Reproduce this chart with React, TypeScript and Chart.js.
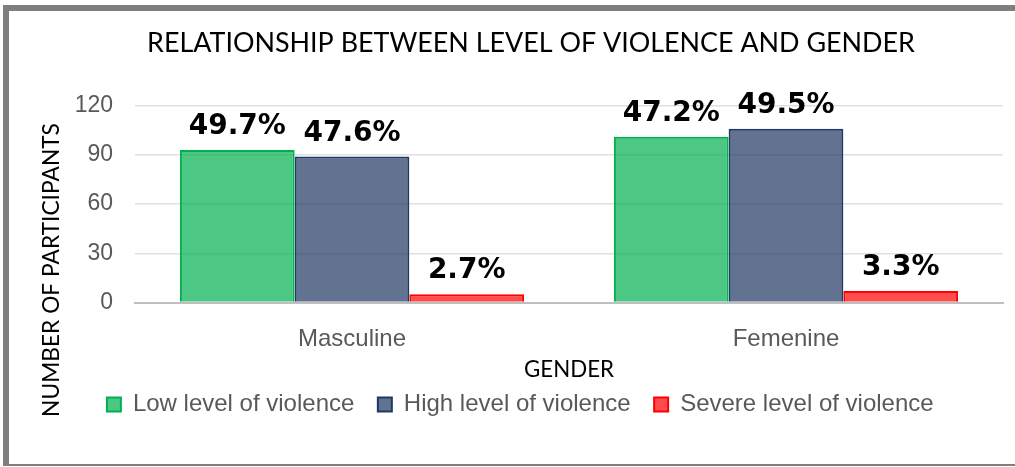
import React, { useEffect, useRef } from 'react';
import { Chart, registerables } from 'chart.js';

Chart.register(...registerables);

// ---------- data ----------
const categories = ['Masculine', 'Femenine'];
const seriesLabels = ['Low level of violence', 'High level of violence', 'Severe level of violence'];
const lowValues = [93, 101];
const highValues = [89, 106];
const severeValues = [5, 7];
const lowPercents = ['49.7%', '47.2%'];
const highPercents = ['47.6%', '49.5%'];
const severePercents = ['2.7%', '3.3%'];
const yTickValues = [0, 30, 60, 90, 120];

const chartTitle = 'RELATIONSHIP BETWEEN LEVEL OF VIOLENCE AND GENDER';
const xAxisTitle = 'GENDER';
const yAxisTitle = 'NUMBER OF PARTICIPANTS';

// ---------- style ----------
const CALIBRI_LIKE = 'Lato, "Noto Sans", sans-serif';
const ARIAL_LIKE = '"Liberation Sans", Arial, sans-serif';
const VERDANA_LIKE = '"DejaVu Sans", Verdana, sans-serif';

const W = 1015;
const H = 467;
const PLOT_LEFT = 135;
const PLOT_RIGHT = 1003;
const PLOT_TOP = 105.7;
const PLOT_BOTTOM = 302.5;
const LEGEND_FONT = 24;
const LEGEND_PAD = 23.5;
const LEGEND_H = LEGEND_FONT + LEGEND_PAD + 10;
const X_AXIS_H = 66.5;
const PAD_LEFT = 37.5;
const PAD_RIGHT = W - PLOT_RIGHT;
const PAD_BOTTOM = H - PLOT_BOTTOM - X_AXIS_H - LEGEND_H;

function fitFontSize(text: string, family: string, weight: string, targetWidth: number): number {
  const c = document.createElement('canvas').getContext('2d') as CanvasRenderingContext2D;
  c.font = `${weight} 100px ${family}`;
  return (100 * targetWidth) / c.measureText(text).width;
}

export default function App() {
  const canvasRef = useRef<HTMLCanvasElement | null>(null);

  useEffect(() => {
    document.body.style.margin = '0';
    const canvas = canvasRef.current;
    if (!canvas) return;

    const titleSize = fitFontSize(chartTitle, CALIBRI_LIKE, 'normal', 768);
    const yTitleSize = fitFontSize(yAxisTitle, CALIBRI_LIKE, 'normal', 294);
    const xTitleSize = fitFontSize(xAxisTitle, CALIBRI_LIKE, 'normal', 90);

    const percentLabels = [lowPercents, highPercents, severePercents];

    const decorations = {
      id: 'decorations',
      afterDatasetsDraw(chart: any) {
        const ctx = chart.ctx as CanvasRenderingContext2D;
        ctx.save();
        ctx.font = `bold 28px ${VERDANA_LIKE}`;
        ctx.fillStyle = '#000000';
        ctx.textAlign = 'center';
        ctx.textBaseline = 'alphabetic';
        chart.data.datasets.forEach((_ds: any, i: number) => {
          const meta = chart.getDatasetMeta(i);
          meta.data.forEach((el: any, j: number) => {
            ctx.fillText(percentLabels[i][j], el.x, el.y - 16);
          });
        });
        ctx.restore();
      },
      afterDraw(chart: any) {
        const ctx = chart.ctx as CanvasRenderingContext2D;
        ctx.save();
        ctx.fillStyle = '#000000';
        ctx.textAlign = 'center';
        ctx.textBaseline = 'alphabetic';
        ctx.font = `normal ${titleSize}px ${CALIBRI_LIKE}`;
        ctx.fillText(chartTitle, 531, 52);
        ctx.translate(59, 270);
        ctx.rotate(-Math.PI / 2);
        ctx.font = `normal ${yTitleSize}px ${CALIBRI_LIKE}`;
        ctx.fillText(yAxisTitle, 0, 0);
        ctx.restore();
      },
    };

    const chart = new Chart(canvas, {
      type: 'bar',
      data: {
        labels: categories,
        datasets: [
          {
            label: seriesLabels[0],
            data: lowValues,
            backgroundColor: 'rgba(0,176,80,0.7)',
            borderColor: '#00B050',
            borderWidth: 2,
          },
          {
            label: seriesLabels[1],
            data: highValues,
            backgroundColor: 'rgba(32,56,100,0.7)',
            borderColor: '#203864',
            borderWidth: 2,
          },
          {
            label: seriesLabels[2],
            data: severeValues,
            backgroundColor: 'rgba(255,0,0,0.7)',
            borderColor: '#FF0000',
            borderWidth: 2,
          },
        ],
      },
      options: {
        responsive: false,
        maintainAspectRatio: false,
        animation: false,
        devicePixelRatio: 1,
        datasets: {
          bar: {
            categoryPercentage: 0.793,
            barPercentage: 1,
          },
        },
        layout: {
          padding: { top: PLOT_TOP, bottom: PAD_BOTTOM, left: PAD_LEFT, right: PAD_RIGHT },
        },
        plugins: {
          title: { display: false },
          tooltip: { enabled: false },
          legend: {
            display: true,
            position: 'bottom',
            align: 'center',
            labels: {
              boxWidth: 14,
              boxHeight: 14,
              padding: LEGEND_PAD,
              color: '#595959',
              font: { family: ARIAL_LIKE, size: LEGEND_FONT },
            },
          },
        },
        scales: {
          x: {
            type: 'category',
            grid: { display: false },
            border: { display: true, color: '#bfbfbf', width: 2 },
            ticks: {
              color: '#595959',
              font: { family: ARIAL_LIKE, size: 24 },
              padding: 14.6,
              maxRotation: 0,
              autoSkip: false,
            },
            title: {
              display: true,
              text: xAxisTitle,
              color: '#000000',
              font: { family: CALIBRI_LIKE, size: xTitleSize },
              padding: { top: 0, bottom: -0.5 - 0.6 * xTitleSize },
            },
            afterFit: (s: any) => {
              s.height = X_AXIS_H;
            },
          },
          y: {
            min: 0,
            max: 120,
            afterBuildTicks: (s: any) => {
              s.ticks = yTickValues.map((v) => ({ value: v }));
            },
            grid: { color: '#e0e0e0', lineWidth: 1.5, drawTicks: false },
            border: { display: false },
            ticks: {
              color: '#595959',
              font: { family: ARIAL_LIKE, size: 23 },
              padding: 22,
            },
            afterFit: (s: any) => {
              s.width = PLOT_LEFT - PAD_LEFT;
            },
          },
        },
      },
      plugins: [decorations],
    } as any);

    return () => {
      chart.destroy();
    };
  }, []);

  return (
    <div style={{ position: 'relative', width: W, height: H, overflow: 'hidden', background: '#ffffff' }}>
      <div
        style={{
          position: 'absolute',
          left: 3,
          top: 5,
          width: 1100,
          height: 461,
          boxSizing: 'border-box',
          borderLeft: '6px solid #7f7f7f',
          borderTop: '6px solid #7f7f7f',
          borderBottom: '2px solid #7f7f7f',
        }}
      />
      <canvas
        ref={canvasRef}
        width={W}
        height={H}
        style={{ position: 'absolute', left: 0, top: 0, display: 'block' }}
      />
    </div>
  );
}
